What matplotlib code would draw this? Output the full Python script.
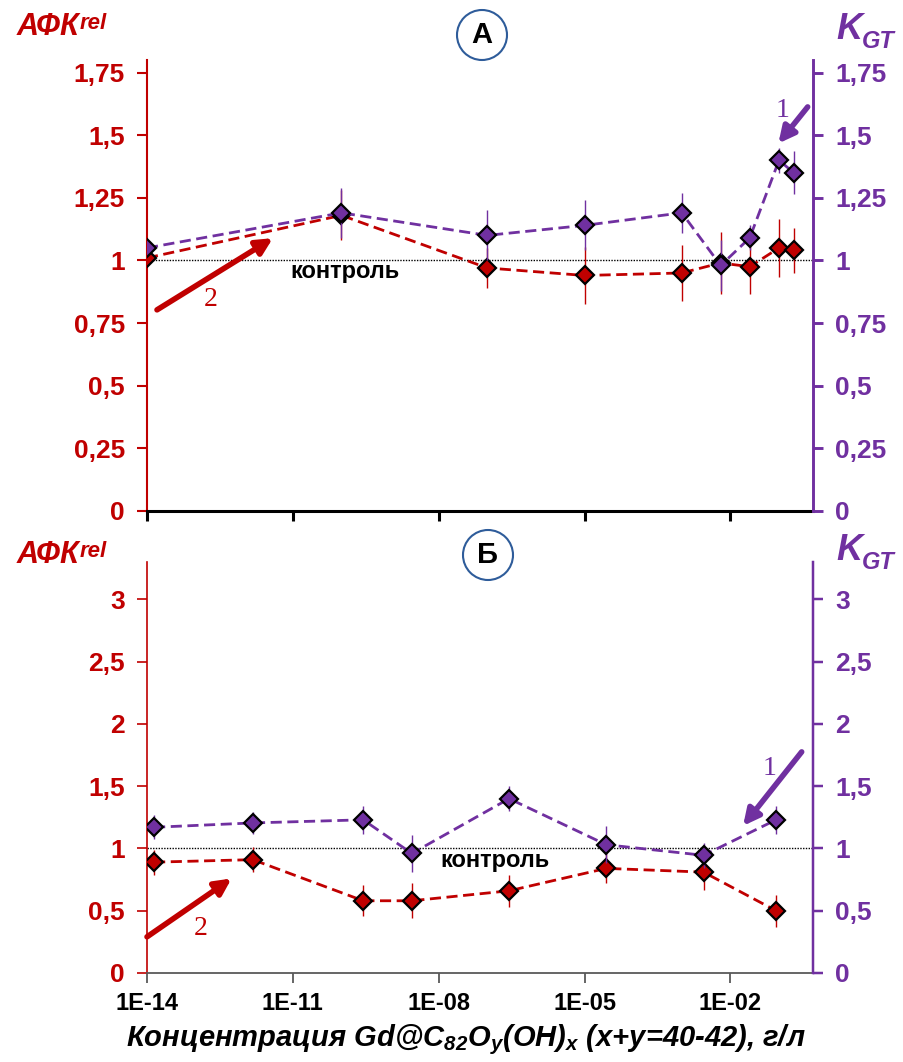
import matplotlib

matplotlib.use("Agg")
import matplotlib.pyplot as plt
from matplotlib.patches import Circle
from matplotlib.ticker import FixedLocator, NullLocator
from matplotlib.transforms import IdentityTransform

plt.rcParams["font.family"] = ["Liberation Sans", "DejaVu Sans"]
plt.rcParams["mathtext.fontset"] = "custom"
plt.rcParams["mathtext.rm"] = "Liberation Sans:italic:bold"
plt.rcParams["mathtext.it"] = "Liberation Sans:italic:bold"

RED = "#C00000"
PURPLE = "#7030A0"

# --- data (panel А) ---
top_conc = [1e-14, 1e-10, 1e-7, 1e-5, 1e-3, 6.3e-3, 2.5e-2, 0.1, 0.2]
top_afk = [1.01, 1.18, 0.97, 0.94, 0.95, 0.99, 0.975, 1.05, 1.04]
top_afk_err = [0.03, 0.10, 0.08, 0.115, 0.11, 0.125, 0.11, 0.115, 0.09]
top_kgt = [1.05, 1.19, 1.10, 1.14, 1.19, 0.98, 1.09, 1.40, 1.35]
top_kgt_err = [0.02, 0.10, 0.10, 0.10, 0.08, 0.10, 0.05, 0.05, 0.085]

# --- data (panel Б) ---
bot_conc = [1.4e-14, 1.5e-12, 2.8e-10, 2.8e-9, 2.8e-7, 2.8e-5, 2.8e-3, 8.7e-2]
bot_afk = [0.89, 0.91, 0.58, 0.58, 0.66, 0.84, 0.81, 0.50]
bot_afk_err = [0.10, 0.10, 0.125, 0.14, 0.13, 0.12, 0.14, 0.13]
bot_kgt = [1.17, 1.205, 1.23, 0.96, 1.40, 1.03, 0.945, 1.23]
bot_kgt_err = [0.095, 0.085, 0.11, 0.15, 0.10, 0.15, 0.10, 0.11]

x_ticks = [1e-14, 1e-11, 1e-8, 1e-5, 1e-2]
x_ticklabels = ["1E-14", "1E-11", "1E-08", "1E-05", "1E-02"]
top_yticks = [0, 0.25, 0.5, 0.75, 1, 1.25, 1.5, 1.75]
top_yticklabels = ["0", "0,25", "0,5", "0,75", "1", "1,25", "1,5", "1,75"]
bot_yticks = [0, 0.5, 1, 1.5, 2, 2.5, 3]
bot_yticklabels = ["0", "0,5", "1", "1,5", "2", "2,5", "3"]

W, H = 904, 1062
fig = plt.figure(figsize=(W / 100, H / 100), dpi=100)


def panel(rect, conc, afk, afk_err, kgt, kgt_err, ymax, yticks, yticklabels,
          spine_lw, bottom_color, bottom_lw, show_xlabels):
    ax = fig.add_axes(rect)
    ax.set_xscale("log")
    ax.set_xlim(1e-14, 0.5)
    ax.set_ylim(0, ymax)

    ax.axhline(1, color="black", lw=1.0, ls=(0, (1, 1)), zorder=1)

    ax.errorbar(conc, afk, yerr=afk_err, fmt="none", ecolor=RED,
                elinewidth=1.0, zorder=2)
    ax.plot(conc, afk, ls=(0, (4, 2)), color=RED, lw=2.0, marker="D",
            ms=9, mfc=RED, mec="black", mew=1.6, zorder=3)
    ax.errorbar(conc, kgt, yerr=kgt_err, fmt="none", ecolor=PURPLE,
                elinewidth=1.0, zorder=4)
    ax.plot(conc, kgt, ls=(0, (4, 2)), color=PURPLE, lw=2.0, marker="D",
            ms=9, mfc=PURPLE, mec="black", mew=1.6, zorder=5)

    ax.spines["top"].set_visible(False)
    ax.spines["right"].set_visible(False)
    ax.spines["left"].set_color(RED)
    ax.spines["left"].set_linewidth(spine_lw)
    ax.spines["bottom"].set_color(bottom_color)
    ax.spines["bottom"].set_linewidth(bottom_lw)

    ax.xaxis.set_major_locator(FixedLocator(x_ticks))
    ax.xaxis.set_minor_locator(NullLocator())
    ax.tick_params(axis="x", direction="out", length=7, width=bottom_lw,
                   color=bottom_color, pad=7)
    if show_xlabels:
        ax.set_xticklabels(x_ticklabels, fontsize=17, fontweight="bold")
    else:
        ax.set_xticklabels([])

    ax.yaxis.set_major_locator(FixedLocator(yticks))
    ax.set_yticklabels(yticklabels, fontsize=19, fontweight="bold", color=RED)
    ax.tick_params(axis="y", direction="out", length=7, width=spine_lw,
                   color=RED, pad=9)

    ax2 = ax.twinx()
    ax2.set_ylim(0, ymax)
    for s in ["top", "left", "bottom"]:
        ax2.spines[s].set_visible(False)
    ax2.spines["right"].set_color(PURPLE)
    ax2.spines["right"].set_linewidth(spine_lw + 0.6)
    ax2.yaxis.set_major_locator(FixedLocator(yticks))
    ax2.set_yticklabels(yticklabels, fontsize=19, fontweight="bold", color=PURPLE)
    ax2.tick_params(axis="y", direction="out", length=7, width=spine_lw + 0.6,
                    color=PURPLE, pad=9)
    return ax


ax_top = panel([147 / W, 1 - 511 / H, 666 / W, 451 / H],
               top_conc, top_afk, top_afk_err, top_kgt, top_kgt_err,
               1.8, top_yticks, top_yticklabels, 1.5, "black", 2.2, False)
ax_bot = panel([147 / W, 1 - 973 / H, 666 / W, 411 / H],
               bot_conc, bot_afk, bot_afk_err, bot_kgt, bot_kgt_err,
               3.3, bot_yticks, bot_yticklabels, 1.2, "#595959", 1.3, True)

ax_bot.set_xlabel(r"Концентрация Gd@C$_\mathrm{82}$O$_\mathrm{y}$(OH)$_\mathrm{x}$ (x+y=40-42), г/л",
                  fontsize=21, fontweight="bold", style="italic", labelpad=5)
ax_bot.xaxis.label.set_x(0.479)

# control labels
ax_top.text(0.215, 0.53, "контроль", transform=ax_top.transAxes,
            fontsize=17, fontweight="bold", ha="left", va="center")
ax_bot.text(0.44, 0.273, "контроль", transform=ax_bot.transAxes,
            fontsize=17, fontweight="bold", ha="left", va="center")


def axis_titles(y_afk, y_kgt):
    t = fig.text(17 / W, 1 - y_afk / H, "АФК", fontsize=22, fontweight="bold",
                 style="italic", color=RED, va="baseline")
    plt.annotate("rel", xy=(1, 1), xycoords=t, xytext=(0, -1),
                 textcoords="offset points", fontsize=16, fontweight="bold",
                 style="italic", color=RED, va="top", ha="left")
    k = fig.text(836 / W, 1 - y_kgt / H, "K", fontsize=26, fontweight="bold",
                 style="italic", color=PURPLE, va="baseline")
    plt.annotate("GT", xy=(1, 0), xycoords=k, xytext=(0, -1),
                 textcoords="offset points", fontsize=17, fontweight="bold",
                 style="italic", color=PURPLE, va="baseline", ha="left")


axis_titles(35, 39)
axis_titles(563, 560)


def panel_badge(cx, cy, letter):
    fig.patches.append(Circle((cx, H - cy), 25, transform=IdentityTransform(),
                              facecolor="white", edgecolor="#2E5C9A", lw=1.5))
    fig.text(cx / W, 1 - cy / H, letter, fontsize=21, fontweight="bold",
             ha="center", va="center")


panel_badge(482, 35, "А")
panel_badge(488, 555, "Б")


def arrow(ax, tail, tip, num, num_pos, color):
    ax.annotate("", xy=tip, xytext=tail, xycoords="axes fraction",
                textcoords="axes fraction",
                arrowprops=dict(arrowstyle="-|>", lw=4, color=color,
                                mutation_scale=24, shrinkA=0, shrinkB=0))
    ax.text(num_pos[0], num_pos[1], num, transform=ax.transAxes,
            fontsize=20, family="Liberation Serif", color=color,
            ha="center", va="center")


arrow(ax_top, (0.015, 0.446), (0.189, 0.605), "2", (0.095, 0.468), RED)
arrow(ax_top, (0.992, 0.896), (0.948, 0.815), "1", (0.955, 0.889), PURPLE)
arrow(ax_bot, (0.0, 0.088), (0.127, 0.230), "2", (0.080, 0.109), RED)
arrow(ax_bot, (0.983, 0.538), (0.895, 0.358), "1", (0.935, 0.498), PURPLE)

fig.savefig("out.png", dpi=100)
